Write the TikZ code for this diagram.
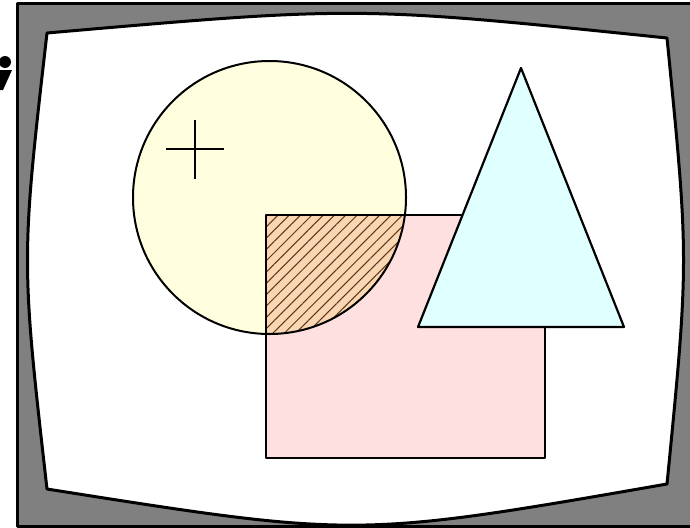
\documentclass[tikz,border=0pt]{standalone}
\usepackage{xcolor}
\usepackage{tikz}
\usetikzlibrary{patterns.meta}
\definecolor{bezel}{RGB}{128,128,128}
\definecolor{ivoryfill}{RGB}{255,255,224}
\definecolor{pinkfill}{RGB}{255,224,224}
\definecolor{cyanfill}{RGB}{224,255,255}
\definecolor{peachfill}{RGB}{250,214,178}
\definecolor{hatchcol}{RGB}{90,55,30}

\begin{document}
\begin{tikzpicture}[x=1pt,y=-1pt,line join=round]
  \useasboundingbox (0,0) rectangle (690,527);
  % monitor bezel and screen
  \draw[line width=3pt,fill=bezel] (17,4) rectangle (700,526);
  \draw[line width=3pt,fill=white] (47,33) .. controls (357,6) .. (667,38)
    .. controls (689,260) .. (667,484)
    .. controls (357,538) .. (47,489)
    .. controls (21,260) .. cycle;
  % clipped glyph at the left edge
  \fill (5,62) circle (6);
  \fill (-2,70) -- (12,70) -- (3,90) -- (-2,90) -- cycle;
  % shapes on the screen
  \fill[ivoryfill] (269.5,197.5) circle (136.5);
  \fill[pinkfill] (266,215) rectangle (545,458);
  \begin{scope}
    \clip (269.5,197.5) circle (136.5);
    \fill[peachfill] (266,215) rectangle (545,458);
    \fill[pattern={Lines[angle=45,distance=8pt,line width=1pt]},pattern color=hatchcol]
      (266,215) rectangle (545,458);
  \end{scope}
  \draw[line width=2pt] (269.5,197.5) circle (136.5);
  \draw[line width=2pt] (266,215) rectangle (545,458);
  \draw[line width=2.2pt,fill=cyanfill] (521,68) -- (624,327) -- (418,327) -- cycle;
  \draw[line width=2pt] (166,149) -- (224,149);
  \draw[line width=2pt] (195,120) -- (195,179);
\end{tikzpicture}
\end{document}
